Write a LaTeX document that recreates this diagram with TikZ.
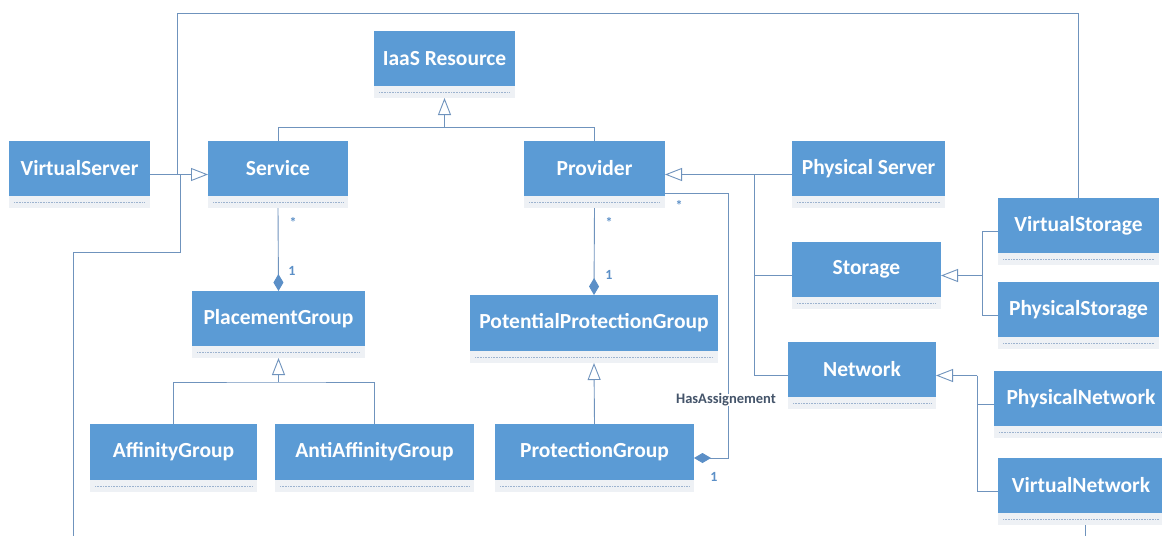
\documentclass[tikz,border=0pt]{standalone}
\usepackage{fontspec}
\setmainfont{Carlito}
\usetikzlibrary{arrows.meta,fit,calc}
\definecolor{clsblue}{HTML}{5B9BD5}
\definecolor{bandgrey}{HTML}{EEF1F5}
\definecolor{dotblue}{HTML}{9DB3CF}
\definecolor{lineblue}{HTML}{6F93BD}
\definecolor{multblue}{HTML}{5B8FC7}
\definecolor{labgrey}{HTML}{44546A}
\newcommand{\umlclass}[6]{%
  \fill[clsblue] (#2,#3) rectangle (#4,#5);
  \fill[bandgrey] (#2,#5) rectangle (#4,#5+12);
  \draw[dotblue, line width=0.6pt, dash pattern=on 0.8pt off 0.8pt] (#2+5,#5+6) -- (#4-5,#5+6);
  \node[clstext] at ({(#2+#4)/2},{(#3+#5)/2}) {#6};
  \node[fit={(#2,#3) (#4,#5+12)}, inner sep=0pt, outer sep=0pt] (#1) {};
}
\begin{document}
\begin{tikzpicture}[x=1pt,y=-1pt,
  clstext/.style={text=white, font=\fontsize{21.5}{25}\selectfont\bfseries, inner sep=0pt},
  conn/.style={draw=lineblue, line width=0.9pt},
  gen/.style={conn, -{Triangle[open, length=17pt, width=13pt, fill=white]}},
  comp/.style={conn, -{Diamond[length=17pt, width=10pt, fill=multblue, color=multblue]}},
  mult/.style={text=multblue, font=\fontsize{14}{16}\selectfont\bfseries, inner sep=0pt},
  asslab/.style={text=labgrey, font=\fontsize{14.5}{16}\selectfont\bfseries, inner sep=0pt, fill=white}]
\useasboundingbox (0,0) rectangle (1162,536);
\fill[white] (0,0) rectangle (1162,536);

% classes
\umlclass{VS}{9}{141}{150}{196}{VirtualServer}
\umlclass{Service}{208}{141}{348}{196}{Service}
\umlclass{IaaS}{374}{31}{515}{86}{IaaS Resource}
\umlclass{Provider}{524}{141}{665}{196}{Provider}
\umlclass{PhysServer}{792}{141}{945}{196}{Physical Server}
\umlclass{VStorage}{998}{198}{1159}{253}{VirtualStorage}
\umlclass{Storage}{792}{242}{941}{297}{Storage}
\umlclass{PStorage}{998}{282}{1159}{337}{PhysicalStorage}
\umlclass{Network}{788}{342}{936}{397}{Network}
\umlclass{PNet}{994}{371}{1168}{426}{PhysicalNetwork}
\umlclass{VNet}{998}{458}{1164}{513}{VirtualNetwork}
\umlclass{PlGroup}{192}{291}{365}{346}{PlacementGroup}
\umlclass{Affinity}{90}{424}{257}{480}{AffinityGroup}
\umlclass{AntiAff}{275}{424}{474}{480}{AntiAffinityGroup}
\umlclass{PPG}{470}{295}{718}{351}{PotentialProtectionGroup}
\umlclass{PG}{495}{424}{694}{480}{ProtectionGroup}

% IaaS Resource generalization
\draw[conn] (Service.north) -- ++(0,-14) coordinate (sj) -| (Provider.north);
\draw[gen] (sj -| IaaS.south) -- (IaaS.south);

% VirtualServer -> Service
\draw[gen] (VS.east) -- (Service.west);
\coordinate (vsj) at ($(VS.east)+(27,0)$);
\coordinate (bl) at (73,536);
\draw[conn] (VStorage.north) -- ++(0,-185) -| (vsj);
\draw[conn] ([xshift=3pt]vsj) -- ++(0,77.5) -| (bl);
\coordinate (vnb) at ($(VNet.south)+(4,11)$);
\draw[conn] ([xshift=4pt]VNet.south) -- (vnb);

% Service - PlacementGroup composition
\draw[comp] (Service.south) -- (PlGroup.north);
\node[mult] at (293,222) {*};
\node[mult] at (292,271) {1};

% Provider - PotentialProtectionGroup composition
\draw[comp] (Provider.south) -- (PPG.north);
\node[mult] at (609,222) {*};
\node[mult] at (609,275) {1};

% HasAssignement
\draw[comp] ([yshift=-18.5pt]Provider.east) -- ++(63,0) |- (PG.east);
\node[mult] at (679,205) {*};
\node[mult] at (714,477) {1};
\node[asslab] at (726,400) {HasAssignement};

% PlacementGroup generalization
\draw[conn] (Affinity.north) |- ($(PlGroup.south)+(0,24)$) coordinate (pj) -| (AntiAff.north);
\draw[gen] (pj) -- (PlGroup.south);

% PotentialProtectionGroup generalization
\draw[gen] (PG.north) -- (PPG.south);

% Provider generalization
\coordinate (prj) at ($(Provider.east)+(89,0)$);
\draw[gen] (PhysServer.west) -- (Provider.east);
\draw[conn] (prj) |- (Storage.west);
\draw[conn] (prj) |- (Network.west);

% Storage generalization
\coordinate (stj) at ($(Storage.east)+(41,0)$);
\draw[conn] (VStorage.west) -| (stj) |- (PStorage.west);
\draw[gen] (stj) -- (Storage.east);

% Network generalization
\coordinate (ntj) at ($(Network.east)+(41,0)$);
\draw[conn] (ntj) |- (PNet.west);
\draw[conn] (ntj) |- (VNet.west);
\draw[gen] (ntj) -- (Network.east);
\end{tikzpicture}
\end{document}
